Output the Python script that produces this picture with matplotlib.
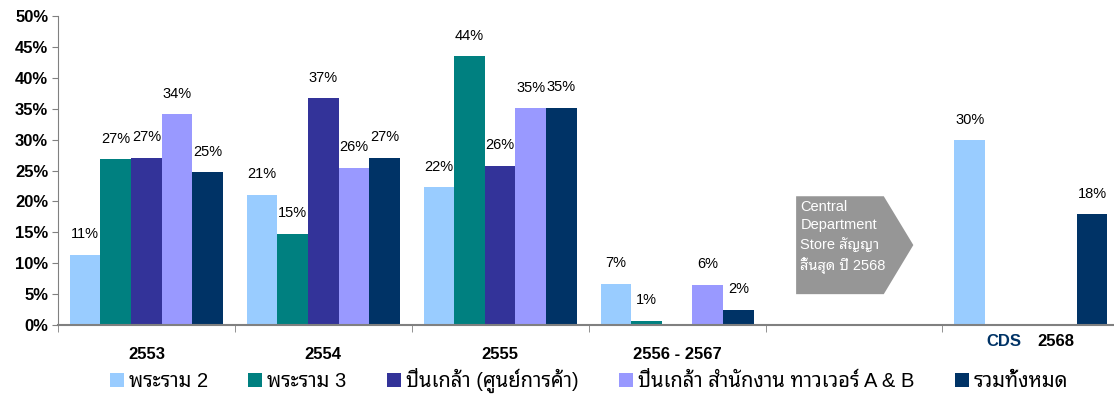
import numpy as np
import matplotlib
matplotlib.use("Agg")
import matplotlib.pyplot as plt
from matplotlib.patches import Polygon

plt.rcParams['font.family'] = ['Liberation Sans', 'Noto Sans Thai Looped', 'DejaVu Sans']

# data (percent), nan = no bar
groups = ['2553', '2554', '2555', '2556 - 2567', '', '2568']
series = ['พระราม 2', 'พระราม 3', 'ปิ่นเกล้า (ศูนย์การค้า)',
          'ปิ่นเกล้า สำนักงาน ทาวเวอร์ A & B', 'รวมทั้งหมด']
rama2 = [11.4, 21.1, 22.3, 6.7, np.nan, 29.9]
rama3 = [26.8, 14.8, 43.5, 0.7, np.nan, np.nan]
pinklao_mall = [27.1, 36.7, 25.8, np.nan, np.nan, np.nan]
pinklao_office = [34.1, 25.5, 35.1, 6.5, np.nan, np.nan]
total = [24.7, 27.1, 35.2, 2.5, np.nan, 17.9]

colors = ['#99CCFF', '#008080', '#333399', '#9999FF', '#003366']
values = [rama2, rama3, pinklao_mall, pinklao_office, total]

fig = plt.figure(figsize=(11.14, 3.94), dpi=100)
ax = fig.add_axes([0.052, 0.175, 0.948, 0.784])

x = np.arange(len(groups))
w = 0.173
for i, (vals, c, name) in enumerate(zip(values, colors, series)):
    pos = x + (i - 2) * w
    v = np.array(vals, dtype=float)
    ax.bar(pos, np.nan_to_num(v), w, color=c, label=name)
    for p, val in zip(pos, v):
        if not np.isnan(val):
            ax.text(p, val + 2.2, '%d%%' % round(val), ha='center', va='bottom',
                    fontsize=10.5, color='black')

ax.set_ylim(0, 50)
ax.set_xlim(-0.5, 5.47)
ax.set_yticks(np.arange(0, 51, 5))
ax.set_yticklabels(['%d%%' % t for t in range(0, 51, 5)], fontsize=12, fontweight='bold')

ax.set_xticks(x)
ax.set_xticklabels(groups[:5] + [''], fontsize=12, fontweight='bold')
ax.tick_params(axis='x', which='major', length=0, pad=16)
ax.set_xticks(np.arange(len(groups)) - 0.5, minor=True)
ax.tick_params(axis='x', which='minor', length=5, color='#808080', direction='out')
ax.tick_params(axis='y', length=4, color='#808080', direction='out', pad=3)

for s in ['top', 'right']:
    ax.spines[s].set_visible(False)
ax.spines['left'].set_color('#808080')
ax.spines['bottom'].set_color('#808080')
ax.spines['bottom'].set_linewidth(1.5)

# last category label
ax.text(x[5] - 0.15, -2.6, 'CDS', ha='center', va='center',
        fontsize=12, fontweight='bold', color='#003366')
ax.text(x[5] + 0.14, -2.6, '2568', ha='center', va='center',
        fontsize=12, fontweight='bold', color='black')

# arrow callout
arrow = Polygon([(0.699, 0.100), (0.782, 0.100), (0.810, 0.259),
                 (0.782, 0.417), (0.699, 0.417)], closed=True,
                transform=ax.transAxes, facecolor='#969696', edgecolor='none', zorder=3)
ax.add_patch(arrow)
ax.text(0.703, 0.405, 'Central\nDepartment\nStore สัญญา\nสิ้นสุด ปี 2568',
        transform=ax.transAxes, ha='left', va='top', fontsize=10.5,
        color='white', linespacing=1.4, zorder=4)

ax.legend(loc='center', bbox_to_anchor=(0.503, -0.18), ncol=5, frameon=False,
          fontsize=14.5, handlelength=0.7, handleheight=0.7,
          handletextpad=0.25, columnspacing=2.0, borderaxespad=0)

fig.savefig('out.png', dpi=100)
